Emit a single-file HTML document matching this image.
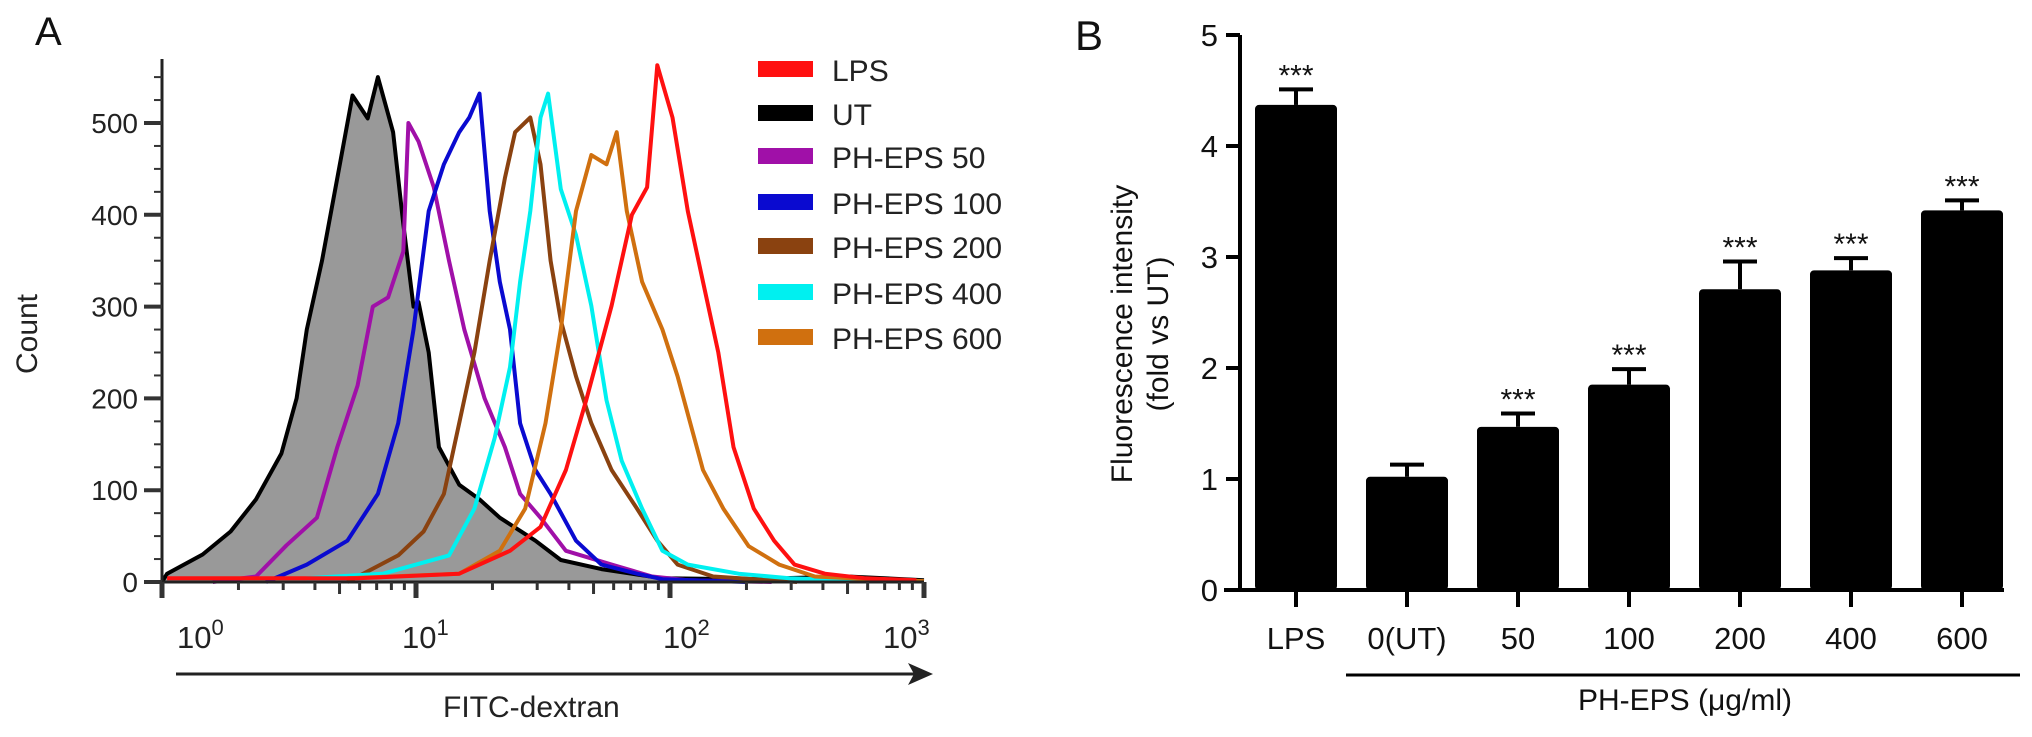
<!DOCTYPE html>
<html><head><meta charset="utf-8"><style>
html,body{margin:0;padding:0;background:#fff;}
svg{display:block;font-family:"Liberation Sans",Arial,sans-serif;}
</style></head><body>
<svg id="fig" width="2032" height="737" viewBox="0 0 2032 737">
<text x="35" y="45" font-size="40" fill="#111">A</text>
<text x="1075" y="50" font-size="42" fill="#111">B</text>
<g id="gA"></g>
<g id="gB"></g>
</svg>
<script>
// ---------- Panel A data (log10 position, count) ----------
const seriesNames = ["LPS","UT","PH-EPS 50","PH-EPS 100","PH-EPS 200","PH-EPS 400","PH-EPS 600"];
const seriesColors = ["#ff1010","#000000","#a010a8","#0a0ad0","#8a4210","#00f0f0","#d0700f"];
const utLog = [0,0.02,0.16,0.27,0.37,0.47,0.53,0.57,0.63,0.69,0.75,0.81,0.85,0.91,0.95,0.99,1.01,1.05,1.09,1.17,1.25,1.33,1.47,1.57,1.73,1.97,2.3,2.7,3.0];
const utCnt = [0,9,30,55,90,140,200,275,350,440,530,505,550,490,390,300,305,250,147,106,90,70,45,24,14,4,3,6,2];
const m50Log = [0.2,0.37,0.49,0.61,0.69,0.77,0.83,0.89,0.95,0.97,1.01,1.07,1.13,1.19,1.27,1.35,1.41,1.49,1.59,1.77,1.93,2.07,2.4];
const m50Cnt = [0,6,40,70,147,214,300,310,360,500,480,430,350,275,200,147,96,70,34,19,6,2,0];
const m100Log = [0.41,0.57,0.73,0.85,0.93,0.99,1.05,1.11,1.17,1.21,1.25,1.29,1.33,1.37,1.41,1.47,1.53,1.63,1.73,1.87,1.97,2.3];
const m100Cnt = [0,19,45,96,173,275,404,455,490,506,532,404,327,275,173,122,96,45,19,9,3,0];
const m200Log = [0.73,0.93,1.03,1.11,1.17,1.23,1.29,1.35,1.39,1.45,1.49,1.53,1.57,1.63,1.69,1.77,1.87,1.95,2.03,2.17,2.5];
const m200Cnt = [0,29,55,96,173,250,350,440,490,506,455,350,285,224,173,122,80,45,19,6,0];
const m400Log = [0.57,0.87,1.13,1.23,1.31,1.37,1.41,1.45,1.49,1.52,1.57,1.63,1.69,1.75,1.81,1.89,1.97,2.07,2.27,2.47,2.8];
const m400Cnt = [4,9,29,80,157,234,327,404,506,532,428,378,301,198,132,80,34,19,9,4,1];
const m600Log = [0.73,1.17,1.33,1.43,1.51,1.57,1.63,1.69,1.75,1.79,1.83,1.89,1.97,2.03,2.13,2.21,2.31,2.43,2.57,2.8,3.0];
const m600Cnt = [4,9,34,80,173,275,404,465,455,490,404,327,275,224,122,80,39,19,6,3,1];
const lpsLog = [0.02,0.77,1.17,1.37,1.49,1.59,1.67,1.77,1.85,1.91,1.95,2.01,2.07,2.13,2.19,2.25,2.33,2.41,2.49,2.61,2.77,2.97];
const lpsCnt = [4,4,9,34,60,122,198,301,400,430,563,506,404,327,250,147,80,45,19,9,4,2];
const xTickLabels = ["0","1","2","3"];
const yTicksA = [0,100,200,300,400,500];

// ---------- Panel B data ----------
const barCats = ["LPS","0(UT)","50","100","200","400","600"];
const barVals = [4.37,1.02,1.47,1.85,2.71,2.88,3.42];
const barErr = [0.14,0.11,0.12,0.14,0.25,0.11,0.09];
const barSig = ["***","","***","***","***","***","***"];
const yTicksB = [0,1,2,3,4,5];

const NS="http://www.w3.org/2000/svg";
function mk(tag,attrs,parent,txt){const e=document.createElementNS(NS,tag);for(const k in attrs)e.setAttribute(k,attrs[k]);if(txt!==undefined)e.textContent=txt;parent.appendChild(e);return e;}

// ---- Panel A ----
const gA=document.getElementById('gA');
const ax0=162, axDec=254, ay0=582, ayPer=0.918;
const xA=l=>ax0+axDec*l, yA=c=>ay0-ayPer*c;
const sets=[[lpsLog,lpsCnt],[utLog,utCnt],[m50Log,m50Cnt],[m100Log,m100Cnt],[m200Log,m200Cnt],[m400Log,m400Cnt],[m600Log,m600Cnt]];
{let d="M"+xA(utLog[0])+","+yA(0);utLog.forEach((l,i)=>d+=" L"+xA(l)+","+yA(utCnt[i]));d+=" L"+xA(utLog[utLog.length-1])+","+yA(0)+"Z";
const f=mk('path',{d:d,fill:'#999999',stroke:'none'},gA);

}
const order=[1,2,3,4,5,6,0];
order.forEach(si=>{const [L,C]=sets[si];let d="";L.forEach((l,i)=>d+=(i?" L":"M")+xA(l).toFixed(1)+","+yA(C[i]).toFixed(1));
const p=mk('path',{d:d,fill:'none',stroke:seriesColors[si],'stroke-width':4,'stroke-linejoin':'round'},gA);

});
const yax=mk('line',{x1:ax0,y1:59,x2:ax0,y2:ay0,stroke:'#222','stroke-width':3},gA);


for(let c=0;c<=570;c+=25){const maj=c%100==0;mk('line',{x1:ax0-(maj?18:8),y1:yA(c),x2:ax0,y2:yA(c),stroke:'#333','stroke-width':maj?4:2},gA);}
yTicksA.forEach(v=>{const t=mk('text',{x:138,y:yA(v)+10,'font-size':28,'text-anchor':'end',fill:'#222'},gA,String(v));

});
const xax=mk('line',{x1:ax0,y1:ay0,x2:xA(3),y2:ay0,stroke:'#222','stroke-width':3},gA);


for(let dcd=0;dcd<3;dcd++){for(let m=1;m<=10;m++){const l=dcd+Math.log10(m);const maj=(m==1||m==10);mk('line',{x1:xA(l),y1:ay0,x2:xA(l),y2:ay0+(maj?16:(m==5?12:8)),stroke:'#333','stroke-width':maj?5:3},gA);}}
const xLabX=[177,402,663,883];
xTickLabels.forEach((s,i)=>{const t=mk('text',{x:xLabX[i],y:648,'font-size':31,fill:'#222'},gA);


mk('tspan',{},t,'10');mk('tspan',{dy:-13,'font-size':22},t,s);});
mk('line',{x1:176,y1:674,x2:920,y2:674,stroke:'#222','stroke-width':3},gA);
mk('path',{d:'M933,674 L908,663 L914,674 L908,685Z',fill:'#222'},gA);
const xt=mk('text',{x:443,y:717,'font-size':30,fill:'#222'},gA,'FITC-dextran');


const yt=mk('text',{x:0,y:0,'font-size':30,fill:'#222','text-anchor':'middle',transform:'translate(37,334) rotate(-90)'},gA,'Count');


const legY=[69,113,156,202,246,292,337];
seriesNames.forEach((n,i)=>{const g=mk('g',{},gA);


mk('rect',{x:758,y:legY[i]-8,width:55,height:16,fill:seriesColors[i]},g);
mk('text',{x:832,y:legY[i]+12,'font-size':30,fill:'#222'},g,n);});

// ---- Panel B ----
const gB=document.getElementById('gB');
const bx0=1240, by0=590, byPer=111, bStep=111, bFirst=1296, bW=82;
const yB=v=>by0-byPer*v, xB=i=>bFirst+bStep*i;
barVals.forEach((v,i)=>{
 const e=mk('line',{x1:xB(i),y1:yB(v),x2:xB(i),y2:yB(v+barErr[i]),stroke:'#000','stroke-width':4},gB);
 
 
 mk('line',{x1:xB(i)-17,y1:yB(v+barErr[i]),x2:xB(i)+17,y2:yB(v+barErr[i]),stroke:'#000','stroke-width':4},gB);
 const r=mk('rect',{x:xB(i)-bW/2,y:yB(v),width:bW,height:by0-yB(v),rx:4,fill:'#000'},gB);
 
 
 if(barSig[i]){const s=mk('text',{x:xB(i),y:yB(v+barErr[i])-4,'font-size':30,'text-anchor':'middle',fill:'#111'},gB,barSig[i]);
 
 }
 mk('line',{x1:xB(i),y1:by0,x2:xB(i),y2:607,stroke:'#000','stroke-width':4},gB);
 const t=mk('text',{x:xB(i),y:649,'font-size':31,'text-anchor':'middle',fill:'#111'},gB,barCats[i]);
 
 
});
const byax=mk('line',{x1:bx0,y1:yB(5),x2:bx0,y2:by0,stroke:'#000','stroke-width':4},gB);


const bxax=mk('line',{x1:1224,y1:by0,x2:2004,y2:by0,stroke:'#000','stroke-width':4},gB);


yTicksB.forEach(v=>{mk('line',{x1:bx0-14,y1:yB(v),x2:bx0,y2:yB(v),stroke:'#000','stroke-width':4},gB);
const t=mk('text',{x:1218,y:yB(v)+11,'font-size':31,'text-anchor':'end',fill:'#111'},gB,String(v));

});
mk('line',{x1:1346,y1:675,x2:2020,y2:675,stroke:'#000','stroke-width':3},gB);
const bxt=mk('text',{x:1685,y:710,'font-size':30,'text-anchor':'middle',fill:'#111'},gB,'PH-EPS (μg/ml)');


const byt=mk('text',{x:0,y:0,'font-size':30,'text-anchor':'middle',fill:'#111',transform:'translate(1132,334) rotate(-90)'},gB);


mk('tspan',{x:0,dy:0},byt,'Fluorescence intensity');
mk('tspan',{x:0,dy:36},byt,'(fold vs UT)');
</script>
</body></html>
